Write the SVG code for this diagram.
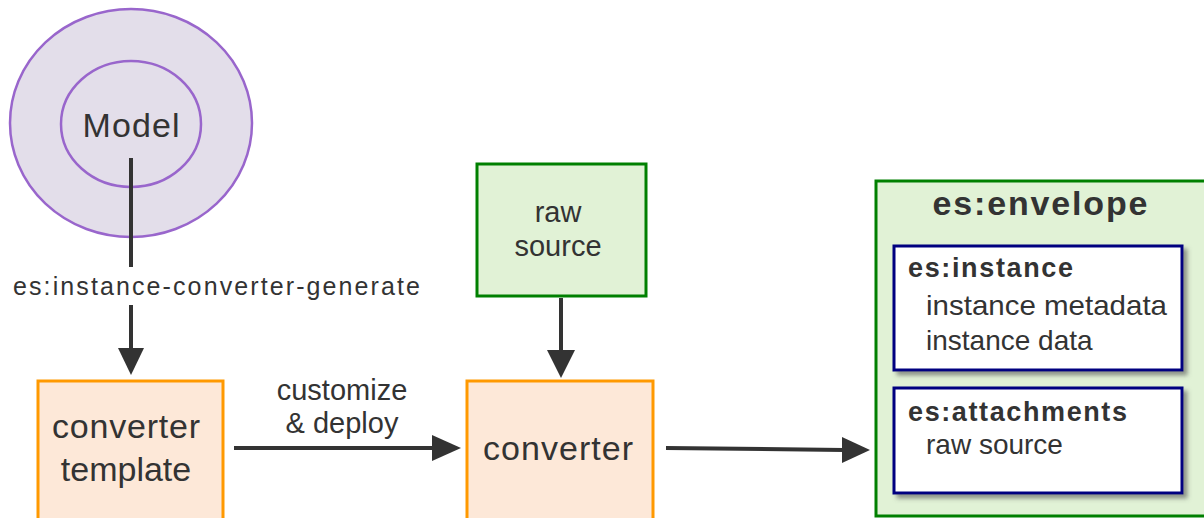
<svg xmlns="http://www.w3.org/2000/svg" width="1204" height="518" viewBox="0 0 1204 518">
<defs>
<style>
.t{font-family:"Liberation Sans",Arial,sans-serif;fill:#333}
.b{font-weight:bold}
.orange{fill:#FDE8D8;stroke:#FF9900;stroke-width:3}
.green{fill:#E1F2D6;stroke:#008000;stroke-width:3}
.navy{fill:#fff;stroke:#000080;stroke-width:3}
.ell{fill:#E3DEEA;stroke:#9966CC;stroke-width:2.5}
.ln{stroke:#333;stroke-width:4;fill:none}
</style>
<filter id="sh" x="-10%" y="-10%" width="130%" height="140%">
<feDropShadow dx="4" dy="4" stdDeviation="2" flood-color="#555" flood-opacity="0.6"/>
</filter>
</defs>
<rect width="1204" height="518" fill="#fff"/>

<g id="model">
<ellipse class="ell" cx="131" cy="123" rx="121" ry="114"/>
<ellipse class="ell" cx="131" cy="124" rx="70" ry="63"/>
<text class="t" x="131" y="137" font-size="34" text-anchor="middle" textLength="97" lengthAdjust="spacing">Model</text>
</g>

<g id="converter-template">
<rect class="orange" x="38" y="381" width="185" height="150"/>
<text class="t" x="126" y="438" font-size="34" text-anchor="middle" textLength="148" lengthAdjust="spacing">converter</text>
<text class="t" x="126" y="481" font-size="34" text-anchor="middle">template</text>
</g>

<g id="raw-source">
<rect class="green" x="477" y="164" width="169" height="132"/>
<text class="t" x="558" y="222" font-size="29" text-anchor="middle">raw</text>
<text class="t" x="558" y="256" font-size="29" text-anchor="middle">source</text>
</g>

<g id="converter">
<rect class="orange" x="467" y="381" width="186" height="150"/>
<text class="t" x="558" y="460" font-size="34" text-anchor="middle" textLength="150" lengthAdjust="spacing">converter</text>
</g>

<g id="envelope">
<rect class="green" x="876" y="181" width="340" height="335"/>
<text class="t b" x="1040" y="215" font-size="34" text-anchor="middle" textLength="215" lengthAdjust="spacing">es:envelope</text>
<g id="instance">
<rect class="navy" x="894" y="246" width="288" height="124" filter="url(#sh)"/>
<text class="t b" x="908" y="277" font-size="27" textLength="165" lengthAdjust="spacing">es:instance</text>
<text class="t" x="926" y="315" font-size="28" textLength="241" lengthAdjust="spacingAndGlyphs">instance metadata</text>
<text class="t" x="926" y="350" font-size="28">instance data</text>
</g>
<g id="attachments">
<rect class="navy" x="894" y="388" width="288" height="105" filter="url(#sh)"/>
<text class="t b" x="908" y="421" font-size="27" textLength="219" lengthAdjust="spacing">es:attachments</text>
<text class="t" x="926" y="454" font-size="28">raw source</text>
</g>
</g>

<g id="connectors">
<line class="ln" x1="131" y1="158" x2="131" y2="267"/>
<text class="t" x="13" y="295" font-size="25" textLength="407" lengthAdjust="spacing">es:instance-converter-generate</text>
<line class="ln" x1="131" y1="305" x2="131" y2="350"/>
<path d="M118,348 L144,348 L131,375 z" fill="#333"/>
<text class="t" x="342" y="400" font-size="29" text-anchor="middle">customize</text>
<text class="t" x="342" y="433" font-size="29" text-anchor="middle">&amp; deploy</text>
<line class="ln" x1="234" y1="448" x2="434" y2="448"/>
<path d="M432,435 L461,448 L432,461 z" fill="#333"/>
<line class="ln" x1="561" y1="298" x2="561" y2="352"/>
<path d="M547,350 L575,350 L561,378 z" fill="#333"/>
<line class="ln" x1="666" y1="448" x2="844" y2="450"/>
<path d="M842,437 L870,450 L842,463 z" fill="#333"/>
</g>
</svg>
